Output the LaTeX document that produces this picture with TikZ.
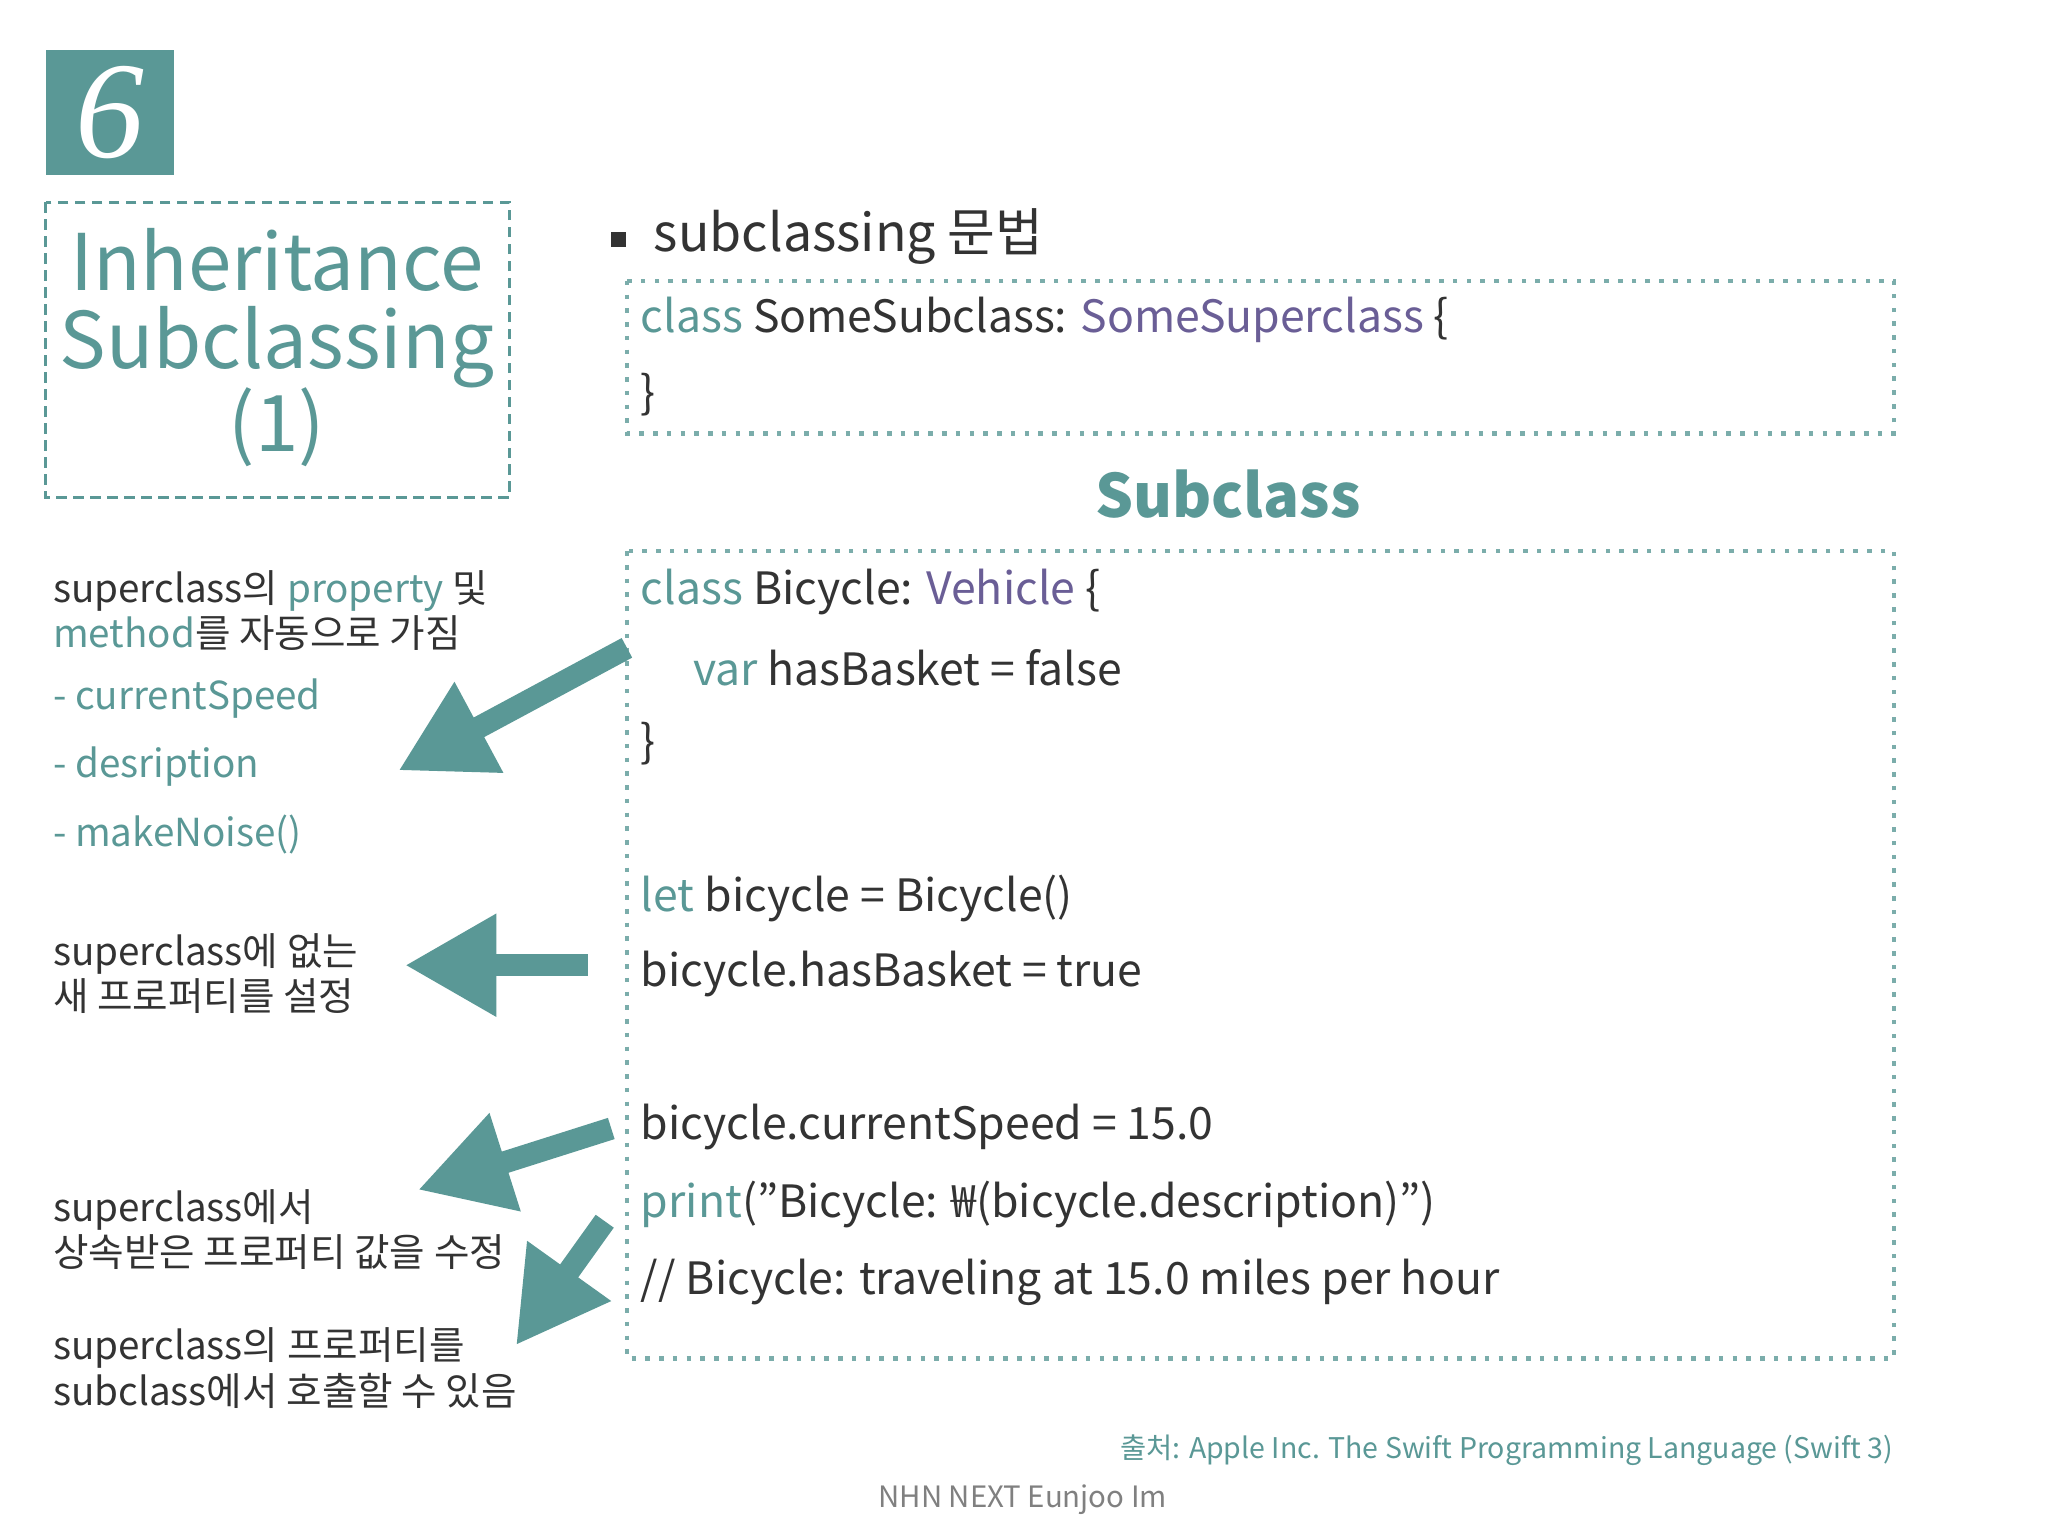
\documentclass[tikz,border=0pt]{standalone}
\usepackage{fontspec}
\setmainfont{Noto Sans CJK KR}
\newfontfamily\numfont{Liberation Serif}
\usetikzlibrary{arrows.meta}
\definecolor{teal6}{HTML}{5A9896}
\definecolor{purp}{HTML}{6A5E96}
\definecolor{codeg}{HTML}{333333}
\tikzset{
 bigarrow/.style={teal6,line width=0.17cm,-{Triangle[length=0.7cm,width=0.74cm]}},
 dotbox/.style={draw=teal6!80,dotted,line width=0.035cm},
 code/.style={anchor=west,inner sep=0,text=codeg,font=\fontsize{9.7}{12}\selectfont},
 lefttxt/.style={anchor=north west,inner sep=0,text=codeg,align=left,font=\fontsize{8.4}{8.2}\selectfont},
}
\begin{document}
\begin{tikzpicture}[x=0.01cm,y=-0.01cm]
\useasboundingbox (0,0) rectangle (1568,1176);
\fill[white] (0,0) rectangle (1568,1176);
% number box
\node[fill=teal6,minimum width=0.98cm,minimum height=0.96cm,inner sep=0,text=white,font=\numfont\itshape\fontsize{30}{30}\selectfont] (num) at (84,86) {6};
% title
\draw[teal6,dashed,line width=0.02cm,dash pattern=on 0.08cm off 0.05cm] (35,155) rectangle (390,381);
\node[teal6,align=center,font=\fontsize{17}{18}\selectfont] (title) at (212,266) {Inheritance\\[-1pt]Subclassing\\[-1pt](1)};
% syntax
\fill[codeg] (468,178) rectangle (479,189);
\node[code,font=\fontsize{11.3}{13}\selectfont] (syn) at (500,181) {subclassing 문법};
\draw[dotbox] (480,215) rectangle (1450,332);
\node[code] (c1) at (490,245) {\textcolor{teal6}{class} SomeSubclass: \textcolor{purp}{SomeSuperclass} \{};
\node[code] (c2) at (490,302) {\}};
\node[teal6,font=\bfseries\fontsize{13}{15}\selectfont] (sub) at (940,378) {Subclass};
\draw[dotbox] (480,422) rectangle (1450,1040);
\node[code] (d1) at (490,453) {\textcolor{teal6}{class} Bicycle: \textcolor{purp}{Vehicle} \{};
\node[code] (d2) at (530,511) {\textcolor{teal6}{var} hasBasket = false};
\node[code] (d3) at (490,569) {\}};
\node[code] (d4) at (490,688) {\textcolor{teal6}{let} bicycle = Bicycle()};
\node[code] (d5) at (490,746) {bicycle.hasBasket = true};
\node[code] (d6) at (490,863) {bicycle.currentSpeed = 15.0};
\node[code] (d7) at (490,922) {\textcolor{teal6}{print}("Bicycle: ₩(bicycle.description)")};
\node[code] (d8) at (490,982) {// Bicycle: traveling at 15.0 miles per hour};
% left texts
\node[lefttxt] (l1) at (40,436) {superclass의 \textcolor{teal6}{property} 및\\\textcolor{teal6}{method}를 자동으로 가짐};
\node[lefttxt,text=teal6,anchor=west] (l2) at (40,535) {- currentSpeed};
\node[lefttxt,text=teal6,anchor=west] (l3) at (40,587) {- desription};
\node[lefttxt,text=teal6,anchor=west] (l4) at (40,639) {- makeNoise()};
\node[lefttxt] (l5) at (40,714) {superclass에 없는\\새 프로퍼티를 설정};
\node[lefttxt] (l6) at (40,910) {superclass에서\\상속받은 프로퍼티 값을 수정};
\node[lefttxt] (l7) at (40,1016) {superclass의 프로퍼티를\\subclass에서 호출할 수 있음};
% arrows
\coordinate (a1s) at (480,496); \coordinate (a1e) at (305,590);
\coordinate (a2s) at (450,739); \coordinate (a2e) at (310,739);
\coordinate (a3s) at (468,864); \coordinate (a3e) at (320,911);
\coordinate (a4s) at (463,935); \coordinate (a4e) at (395,1030);
\draw[bigarrow] (a1s) -- (a1e);
\draw[bigarrow] (a2s) -- (a2e);
\draw[bigarrow] (a3s) -- (a3e);
\draw[bigarrow] (a4s) -- (a4e);
% footer
\node[anchor=east,inner sep=0,teal6,font=\fontsize{6.2}{8}\selectfont] (src) at (1450,1110) {출처: Apple Inc. The Swift Programming Language (Swift 3)};
\node[gray,font=\fontsize{6.4}{8}\selectfont] (ft) at (783,1148) {NHN NEXT Eunjoo Im};
\end{tikzpicture}
\end{document}
